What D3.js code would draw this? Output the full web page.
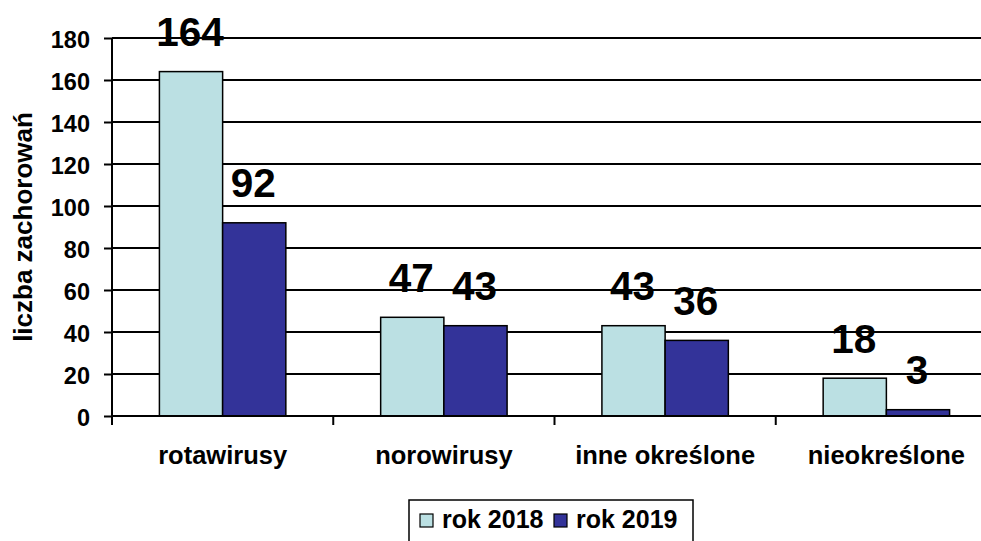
<!DOCTYPE html>
<html><head><meta charset="utf-8">
<script src="https://cdn.jsdelivr.net/npm/d3@7/dist/d3.min.js"></script>
<style>body{margin:0;background:#fff;} svg{display:block;font-family:"Liberation Sans",Arial,sans-serif;font-weight:bold;}</style>
</head><body>
<svg id="c" width="981" height="541"></svg>
<script>
const categories = ["rotawirusy", "norowirusy", "inne określone", "nieokreślone"];
const seriesNames = ["rok 2018", "rok 2019"];
const values2018 = [164, 47, 43, 18];
const values2019 = [92, 43, 36, 3];
const yTicks = [0, 20, 40, 60, 80, 100, 120, 140, 160, 180];
const colors = ["#BBE0E3", "#333399"];
const yTitle = "liczba zachorowań";

(function () {
const svg = d3.select("#c");
const pL = 112, pR = 997, pT = 38, pB = 416;
const x = d3.scaleBand().domain(categories).range([pL, pR]).paddingInner(0).paddingOuter(0);
const xs = d3.scaleBand().domain(seriesNames).range([0, x.bandwidth()]).paddingInner(0).paddingOuter(0.75);
const y = d3.scaleLinear().domain([0, 180]).range([pB, pT]);

// gridlines
svg.append("g").selectAll("line").data(yTicks.filter(d => d > 0)).join("line")
  .attr("x1", pL).attr("x2", pR).attr("y1", d => y(d)).attr("y2", d => y(d))
  .attr("stroke", "#000").attr("stroke-width", 2);

// y axis
const ya = svg.append("g").attr("transform", `translate(${pL},0)`)
  .call(d3.axisLeft(y).tickValues(yTicks).tickSize(8).tickPadding(14));
ya.select(".domain").remove();
ya.selectAll(".tick line").attr("stroke", "#000").attr("stroke-width", 2);
ya.selectAll(".tick text").attr("font-size", 23.5).attr("font-weight", "bold").attr("fill", "#000")
  .attr("dy", "0.4em").attr("font-family", "Liberation Sans, Arial, sans-serif");

// bars
const data = categories.map((c, i) => ({c, vals: [values2018[i], values2019[i]]}));
const grp = svg.append("g").selectAll("g").data(data).join("g")
  .attr("transform", d => `translate(${x(d.c)},0)`);
grp.selectAll("rect").data(d => d.vals.map((v, j) => ({v, s: seriesNames[j], j}))).join("rect")
  .attr("x", d => xs(d.s)).attr("width", xs.bandwidth())
  .attr("y", d => y(d.v)).attr("height", d => y(0) - y(d.v))
  .attr("fill", d => colors[d.j]).attr("stroke", "#000").attr("stroke-width", 1.5);
grp.selectAll("text").data(d => d.vals.map((v, j) => ({v, s: seriesNames[j]}))).join("text")
  .attr("x", d => xs(d.s) + xs.bandwidth() / 2 - 1).attr("y", d => y(d.v) - 25.5)
  .attr("text-anchor", "middle").attr("font-size", 40.5).attr("fill", "#000").text(d => d.v);

// x axis
svg.append("line").attr("x1", pL).attr("x2", pR).attr("y1", pB).attr("y2", pB).attr("stroke", "#000").attr("stroke-width", 2);
svg.append("line").attr("x1", pL).attr("x2", pL).attr("y1", pT).attr("y2", pB + 9).attr("stroke", "#000").attr("stroke-width", 2);
svg.append("g").selectAll("line").data(categories.slice(1)).join("line")
  .attr("x1", d => x(d)).attr("x2", d => x(d)).attr("y1", pB).attr("y2", pB + 9)
  .attr("stroke", "#000").attr("stroke-width", 2);
svg.append("g").selectAll("text").data(categories).join("text")
  .attr("x", d => x(d) + x.bandwidth() / 2).attr("y", 464)
  .attr("text-anchor", "middle").attr("font-size", 25.5).attr("fill", "#000").text(d => d);

// y title
svg.append("text").attr("transform", `translate(32,${(pT + pB) / 2}) rotate(-90)`)
  .attr("text-anchor", "middle").attr("font-size", 26).attr("fill", "#000").text(yTitle);

// legend
const lg = svg.append("g");
lg.append("rect").attr("x", 409).attr("y", 500).attr("width", 284).attr("height", 50)
  .attr("fill", "#fff").attr("stroke", "#000").attr("stroke-width", 1.5);
const lx = [420, 554];
seriesNames.forEach((s, i) => {
  lg.append("rect").attr("x", lx[i]).attr("y", 514).attr("width", 13).attr("height", 13)
    .attr("fill", colors[i]).attr("stroke", "#000").attr("stroke-width", 1.2);
  lg.append("text").attr("x", lx[i] + 22).attr("y", 528).attr("font-size", 25).attr("fill", "#000").text(s);
});
})();
</script>
</body></html>
